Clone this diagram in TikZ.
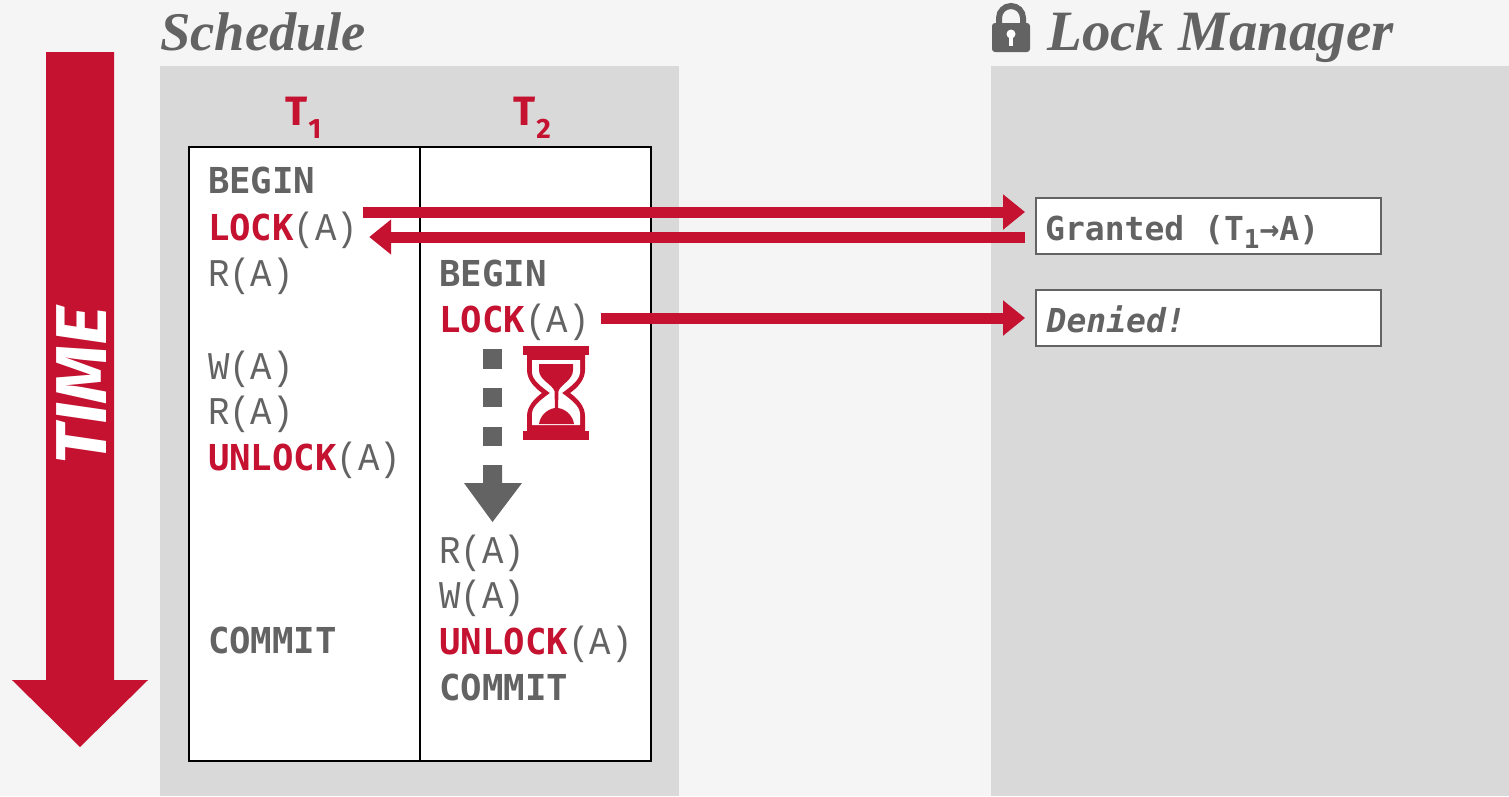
\documentclass[tikz,border=0pt]{standalone}
\usepackage{fontspec}
\usetikzlibrary{arrows.meta}
\setmainfont{Liberation Serif}
\newfontfamily\monolight{Liberation Mono}
\newfontfamily\monobold{DejaVu Sans Mono}
\newfontfamily\firasans{Fira Sans}
\definecolor{cmured}{HTML}{C41230}
\definecolor{txtgray}{HTML}{636363}
\definecolor{panelgray}{HTML}{D9D9D9}
\definecolor{pagegray}{HTML}{F5F5F5}
\newcommand{\fs}[1]{\fontsize{#1}{#1}\selectfont}
\newcommand{\kw}[1]{{\monobold\bfseries\color{cmured}#1}}
\newcommand{\bw}[1]{{\monobold\bfseries\color{txtgray}#1}}
\newcommand{\lw}[1]{\scalebox{1}[1.1]{#1}}
\tikzset{
  codeline/.style={anchor=base west,inner sep=0pt,outer sep=0pt,text=txtgray,font=\monolight\fs{35.7}},
  title/.style={anchor=base west,inner sep=0pt,text=txtgray,font=\bfseries\itshape},
  txhead/.style={anchor=base west,inner sep=0pt,text=cmured,font=\firasans\bfseries\fs{41}},
  panel/.style={fill=panelgray,draw=none},
  lockbox/.style={draw=txtgray,line width=2pt,fill=white,anchor=north west,minimum width=345pt,minimum height=56pt,inner sep=0pt,outer sep=0pt},
  boxtext/.style={anchor=base west,inner sep=0pt,text=txtgray},
  redarrow/.style={draw=cmured,line width=11pt,-{Triangle[length=22pt,width=34pt]}},
  graysolid/.style={fill=txtgray,draw=none},
  redsolid/.style={fill=cmured,draw=none}
}
\begin{document}
\begin{tikzpicture}[x=1pt,y=-1pt]
\fill[pagegray] (0,0) rectangle (1509,796);
\useasboundingbox (0,0) rectangle (1509,796);
% panels
\fill[panel] (160,66) rectangle (679,796);
\fill[panel] (991,66) rectangle (1509,796);
% titles
\node[title] (schedtitle) at (160,50) {\fs{54.5}Schedule};
\node[title] (locktitle) at (1047,50) {\fs{57}Lock Manager};
% padlock
\draw[txtgray,line width=6pt] (999,26) -- (999,18) arc[start angle=180,end angle=0,radius=12pt] -- (1023,26);
\fill[txtgray,rounded corners=3pt] (992,23) rectangle (1030,52);
\fill[white] (1011,34) circle[radius=4.5pt];
\fill[white] (1008.8,35) rectangle (1013.2,46);
% time arrow
\fill[cmured] (46,52) -- (114,52) -- (114,680) -- (148,680) -- (80,747) -- (12,680) -- (46,680) -- cycle;
\node[rotate=90,text=white,inner sep=0pt,font=\firasans\bfseries\itshape\fs{72}] (timelabel) at (81.5,385.5) {\scalebox{1.04}[1]{TIME}};
% headers
\node[txhead] (tone) at (285,125) {T\kern1pt\raisebox{-13pt}{\fs{28}1}};
\node[txhead] (ttwo) at (513,125) {T\kern1pt\raisebox{-13pt}{\fs{28}2}};
% table
\draw[black,line width=2pt,fill=white] (189,147) rectangle (650.5,761);
\draw[black,line width=2pt] (420,147) -- (420,761);
% column 1
\node[codeline] (beginone) at (208,193) {\bw{BEGIN}};
\node[codeline] (lockone) at (208,240) {\kw{LOCK}\lw{(A)}};
\node[codeline] (rone) at (208,286) {\lw{R(A)}};
\node[codeline] (wone) at (208,379) {\lw{W(A)}};
\node[codeline] (rtwo) at (208,424) {\lw{R(A)}};
\node[codeline] (unlockone) at (208,470) {\kw{UNLOCK}\lw{(A)}};
\node[codeline] (commitone) at (208,653) {\bw{COMMIT}};
% column 2
\node[codeline] (begintwo) at (439.5,286) {\bw{BEGIN}};
\node[codeline] (locktwo) at (439.5,332) {\kw{LOCK}\lw{(A)}};
\node[codeline] (rthree) at (439.5,563) {\lw{R(A)}};
\node[codeline] (wtwo) at (439.5,608) {\lw{W(A)}};
\node[codeline] (unlocktwo) at (439.5,654) {\kw{UNLOCK}\lw{(A)}};
\node[codeline] (committwo) at (439.5,700) {\bw{COMMIT}};
% lock manager boxes
\node[lockbox] (granted) at (1036,198) {};
\node[lockbox] (denied) at (1036,290) {};
\node[boxtext,font=\monobold\bfseries\fs{33}] (grantedtext) at (1045,240) {Granted (T\raisebox{-8pt}{\fs{26}1}→A)};
\node[boxtext,font=\monobold\bfseries\itshape\fs{33}] (deniedtext) at (1046.5,332) {Denied!};
% connectors
\coordinate (gin) at ([yshift=14pt]granted.west);
\coordinate (gout) at ([yshift=-11pt]granted.west);
\coordinate (din) at (denied.west);
\draw[redarrow,shorten <=5pt,shorten >=11pt] (lockone.east |- gin) -- (gin);
\draw[redarrow,shorten <=11pt,shorten >=11pt] (gout) -- (lockone.east |- gout);
\draw[redarrow,shorten <=11pt,shorten >=11pt] (locktwo.east |- din) -- (din);
% wait marker
\fill[graysolid] (483,349) rectangle (502,369);
\fill[graysolid] (483,388) rectangle (502,407);
\fill[graysolid] (483,427) rectangle (502,446);
\fill[graysolid] (483,465) -- (502,465) -- (502,483) -- (522,483) -- (492.5,522) -- (464,483) -- (483,483) -- cycle;
% hourglass
\fill[redsolid] (523,346) rectangle (589,355);
\fill[redsolid] (523,431) rectangle (589,440);
\fill[redsolid] (527,355) -- (585,355) -- (585,370) .. controls (585,380) and (577,388) .. (570,393) .. controls (577,398) and (585,406) .. (585,416) -- (585,431) -- (527,431) -- (527,416) .. controls (527,406) and (535,398) .. (542,393) .. controls (535,388) and (527,380) .. (527,370) -- cycle;
\fill[white] (532,360) -- (580,360) -- (580,372) .. controls (580,380) and (570,387) .. (562,393) .. controls (570,399) and (580,406) .. (580,414) -- (580,425) -- (532,425) -- (532,414) .. controls (532,406) and (542,399) .. (550,393) .. controls (542,387) and (532,380) .. (532,372) -- cycle;
\fill[redsolid] (539,364) -- (573,364) -- (573,370) .. controls (573,380) and (561,384) .. (558.5,391) -- (558,408) .. controls (566,409) and (573,416) .. (574,424) -- (539,424) .. controls (540,416) and (547,409) .. (555,408) -- (554.5,391) .. controls (552,384) and (539,380) .. (539,370) -- cycle;
\end{tikzpicture}
\end{document}
